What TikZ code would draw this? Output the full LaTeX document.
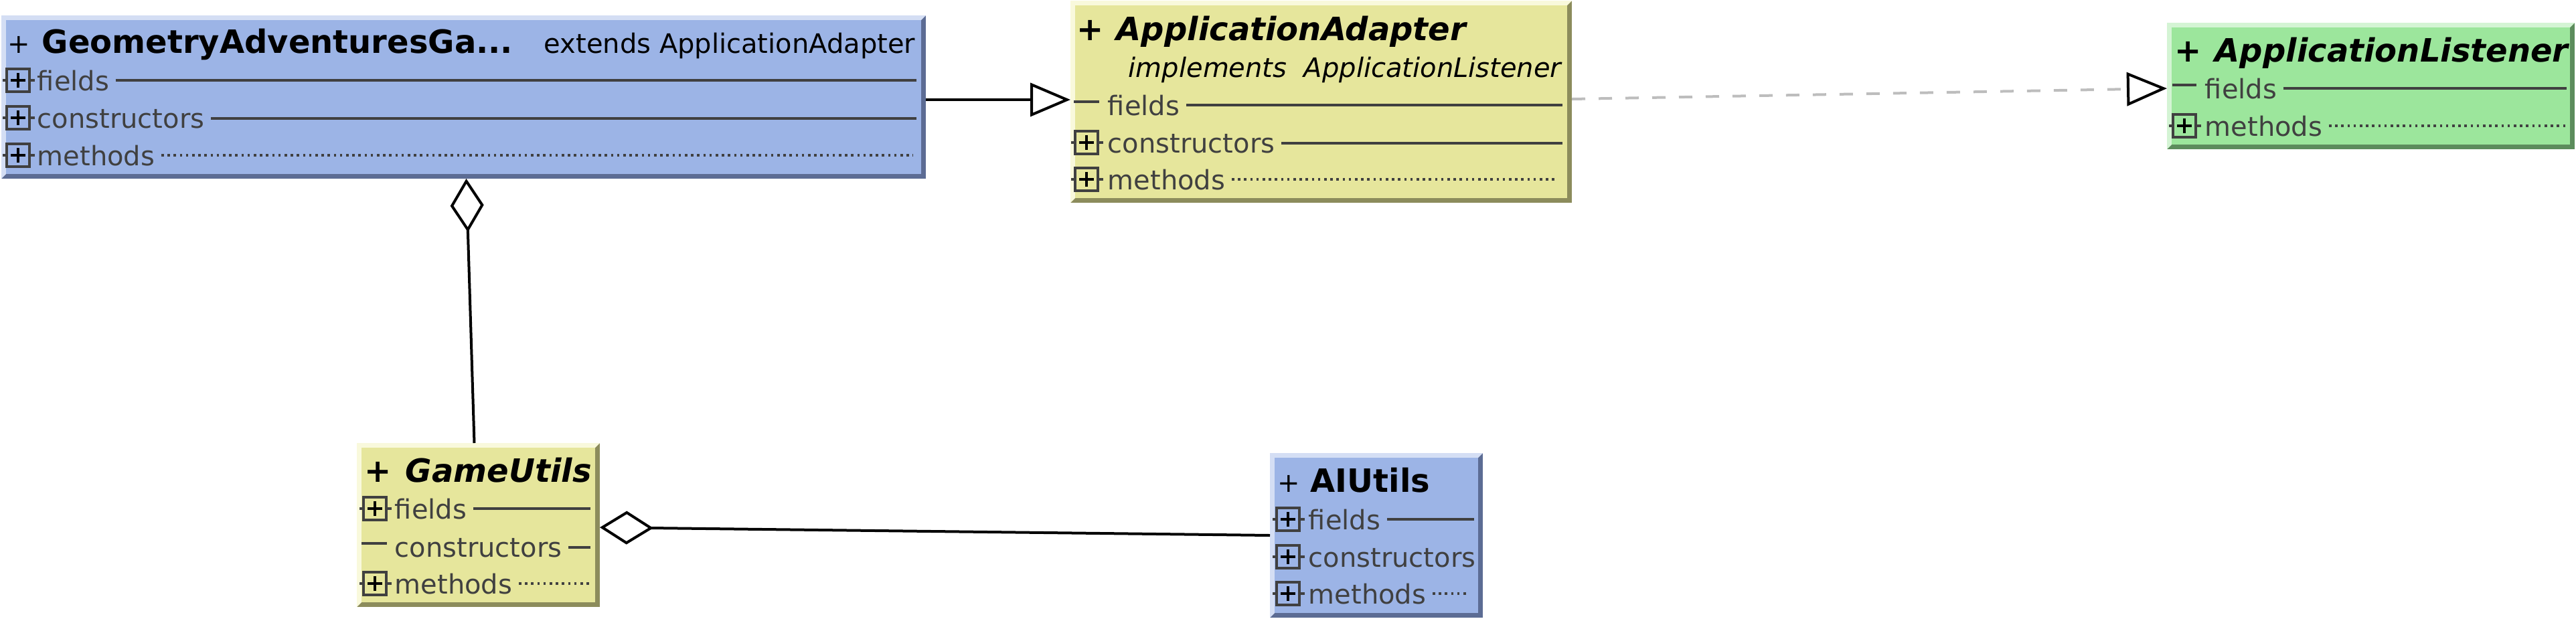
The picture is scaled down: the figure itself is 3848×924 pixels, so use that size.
\documentclass[tikz,border=0pt]{standalone}
\usepackage{fontspec}
\setmainfont{DejaVu Sans}
\usepackage{tikz}
\usetikzlibrary{arrows.meta,fit}

\definecolor{blueFill}{HTML}{9CB4E6}
\definecolor{blueLight}{HTML}{D4DEF4}
\definecolor{blueDark}{HTML}{5C6C94}
\definecolor{yellowFill}{HTML}{E6E69C}
\definecolor{yellowLight}{HTML}{F9F9DC}
\definecolor{yellowDark}{HTML}{8C8C5C}
\definecolor{greenFill}{HTML}{9CE69C}
\definecolor{greenLight}{HTML}{D4F4D4}
\definecolor{greenDark}{HTML}{5C8C5C}
\definecolor{memberGray}{HTML}{404040}
\definecolor{realizeGray}{HTML}{BDBDBD}

\def\bev{7}
% class box with bevelled edges: name, x0, y0, x1, y1, colour prefix
\newcommand{\classbox}[6]{%
  \node[boxbase, fill=#6Dark, fit={(#2,#3) (#4,#5)}] (#1) {};
  \fill[#6Light] (#2,#3) -- (#4,#3) -- (#4-\bev,#3+\bev) -- (#2+\bev,#3+\bev)
    -- (#2+\bev,#5-\bev) -- (#2,#5) -- cycle;
  \fill[#6Fill] (#2+\bev,#3+\bev) rectangle (#4-\bev,#5-\bev);
}

\tikzset{
  boxbase/.style={inner sep=0pt, outer sep=0pt},
  titleplain/.style={anchor=base west, inner sep=0pt, font=\fontsize{10pt}{12pt}\selectfont},
  titlebold/.style={anchor=base west, inner sep=0pt, font=\fontsize{12pt}{14pt}\selectfont\bfseries},
  titleabstract/.style={anchor=base west, inner sep=0pt, font=\fontsize{12pt}{14pt}\selectfont\bfseries\itshape},
  member/.style={anchor=base west, inner xsep=2.25pt, inner ysep=0pt, text=memberGray, font=\fontsize{10pt}{12pt}\selectfont},
  sepline/.style={draw=memberGray, line width=0.9pt},
  sepdots/.style={sepline, dash pattern=on 0.9pt off 1.4pt},
  stub/.style={draw=memberGray, line width=0.9pt},
  expander/.style={draw=memberGray, line width=0.9pt, minimum size=8.5pt, inner sep=0pt,
    path picture={\draw[black, line width=1.1pt]
      ([xshift=-2.7pt]path picture bounding box.center) -- ([xshift=2.7pt]path picture bounding box.center)
      ([yshift=-2.7pt]path picture bounding box.center) -- ([yshift=2.7pt]path picture bounding box.center);},
    append after command={(\tikzlastnode.west) edge[stub] ([xshift=-1pt]\tikzlastnode.west)
      (\tikzlastnode.east) edge[stub] ([xshift=1.5pt]\tikzlastnode.east)}},
  generalize/.style={draw=black, line width=1pt,
    -{Triangle[open, length=15pt, width=12.5pt, line width=1pt]}},
  realize/.style={draw=realizeGray, line width=1pt, dash pattern=on 5pt off 5pt,
    -{Triangle[open, length=15pt, width=12.5pt, line width=1pt, color=black]}},
  aggregate/.style={draw=black, line width=1pt,
    -{Diamond[open, length=20pt, width=12.5pt, line width=1pt]}}
}

\begin{document}
\begin{tikzpicture}[x=0.25pt, y=-0.25pt]
\useasboundingbox (0,0) rectangle (3848,924);

% GeometryAdventuresGame
\classbox{geoGame}{2}{23}{1383}{267}{blue}
\node[titleplain] (geoPlus) at (11,79) {+};
\node[titlebold] (geoName) at (62,79) {GeometryAdventuresGa...};
\node[titleplain, anchor=base east] (geoExtends) at (1368,79) {extends ApplicationAdapter};
\node[member] (geoFields) at (46,135) {fields};
\node[expander] (geoFieldsBox) at (27,120) {};
\draw[sepline] (geoFields.east) -- (geoFields.east -| 1369,0);
\node[member] (geoCtors) at (46,191) {constructors};
\node[expander] (geoCtorsBox) at (27,176) {};
\draw[sepline] (geoCtors.east) -- (geoCtors.east -| 1369,0);
\node[member] (geoMethods) at (46,247) {methods};
\node[expander] (geoMethodsBox) at (27,232) {};
\draw[sepdots] (geoMethods.east) -- (geoMethods.east -| 1364,0);

% ApplicationAdapter
\classbox{appAdapter}{1599}{1}{2348}{303}{yellow}
\node[titlebold] (adapterPlus) at (1608,60) {+};
\node[titleabstract] (adapterName) at (1667,60) {ApplicationAdapter};
\node[titleplain, font=\fontsize{10pt}{12pt}\selectfont\itshape] (adapterImpl) at (1685,115) {implements~~ApplicationListener};
\draw[sepline] (1604,152) -- (1642,152);
\node[member] (adapterFields) at (1645,172) {fields};
\draw[sepline] (adapterFields.east) -- (adapterFields.east -| 2334,0);
\node[member] (adapterCtors) at (1645,228) {constructors};
\node[expander] (adapterCtorsBox) at (1623,213) {};
\draw[sepline] (adapterCtors.east) -- (adapterCtors.east -| 2334,0);
\node[member] (adapterMethods) at (1645,283) {methods};
\node[expander] (adapterMethodsBox) at (1623,268) {};
\draw[sepdots] (adapterMethods.east) -- (adapterMethods.east -| 2327,0);

% ApplicationListener
\classbox{appListener}{3237}{34}{3846}{223}{green}
\node[titlebold] (listenerPlus) at (3248,92) {+};
\node[titleabstract] (listenerName) at (3308,92) {ApplicationListener};
\draw[sepline] (3245,127) -- (3281,127);
\node[member] (listenerFields) at (3284,147) {fields};
\draw[sepline] (listenerFields.east) -- (listenerFields.east -| 3834,0);
\node[member] (listenerMethods) at (3284,203) {methods};
\node[expander] (listenerMethodsBox) at (3263,188) {};
\draw[sepdots] (listenerMethods.east) -- (listenerMethods.east -| 3834,0);

% GameUtils
\classbox{gameUtils}{533}{662}{896}{907}{yellow}
\node[titlebold] (gamePlus) at (544,720) {+};
\node[titleabstract] (gameName) at (605,720) {GameUtils};
\node[member] (gameFields) at (580,775) {fields};
\node[expander] (gameFieldsBox) at (560,760) {};
\draw[sepline] (gameFields.east) -- (gameFields.east -| 882,0);
\draw[sepline] (540,812) -- (578,812);
\node[member] (gameCtors) at (580,832) {constructors};
\draw[sepline] (gameCtors.east) -- (gameCtors.east -| 882,0);
\node[member] (gameMethods) at (580,887) {methods};
\node[expander] (gameMethodsBox) at (560,872) {};
\draw[sepdots] (gameMethods.east) -- (gameMethods.east -| 880,0);

% AIUtils
\classbox{aiUtils}{1897}{677}{2215}{923}{blue}
\node[titleplain] (aiPlus) at (1908,735) {+};
\node[titlebold] (aiName) at (1957,735) {AIUtils};
\node[member] (aiFields) at (1945,791) {fields};
\node[expander] (aiFieldsBox) at (1924,776) {};
\draw[sepline] (aiFields.east) -- (aiFields.east -| 2202,0);
\node[member] (aiCtors) at (1945,847) {constructors};
\node[expander] (aiCtorsBox) at (1924,832) {};
\node[member] (aiMethods) at (1945,902) {methods};
\node[expander] (aiMethodsBox) at (1924,887) {};
\draw[sepdots] (aiMethods.east) -- (aiMethods.east -| 2195,0);

% relations
\draw[generalize] ([yshift=-1pt]geoGame.east) -- ([yshift=-1pt]geoGame.east -| appAdapter.west);
\draw[realize] ([yshift=1pt]appAdapter.east) -- ([yshift=-0.9pt]appListener.west);
\draw[aggregate] ([xshift=-1.5pt]gameUtils.north) -- ([xshift=1pt]geoGame.south);
\draw[aggregate] (aiUtils.west) -- ([yshift=-0.9pt]gameUtils.east);
\end{tikzpicture}
\end{document}
